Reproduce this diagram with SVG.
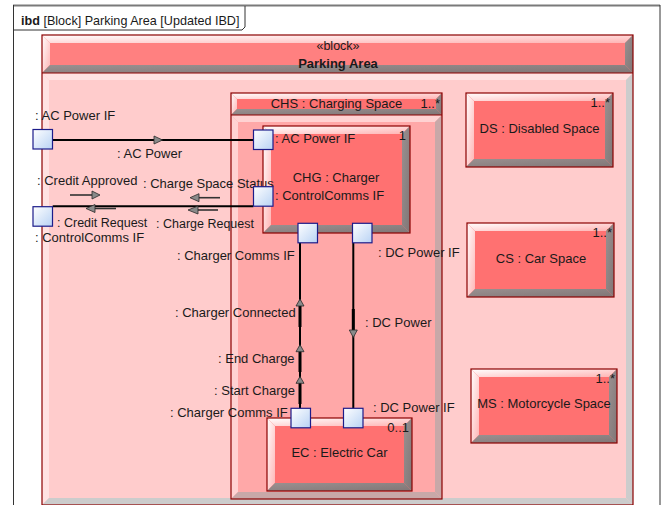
<svg xmlns="http://www.w3.org/2000/svg" width="666" height="505" viewBox="0 0 666 505">
<defs>
<linearGradient id="gLight" x1="0" y1="0" x2="1" y2="1"><stop offset="0" stop-color="#FFFFFF"/><stop offset="1" stop-color="#FFB4B4"/></linearGradient>
<linearGradient id="gDark" x1="0" y1="0" x2="1" y2="1"><stop offset="0" stop-color="#9A9090"/><stop offset="1" stop-color="#807676"/></linearGradient>
<linearGradient id="gPort" x1="0" y1="0" x2="1" y2="1"><stop offset="0" stop-color="#FFFFFF"/><stop offset="1" stop-color="#B8D2F4"/></linearGradient>
<style>
text{font-family:"Liberation Sans",Arial,sans-serif;font-size:13px;fill:#1a1a1a}
.b{font-weight:bold}
.m{text-anchor:middle}
.e{text-anchor:end}
.s{font-size:12.5px}
.part{fill:#FF7171}
.hdr{fill:#FF8080}
.lt{fill:url(#gLight)}
.dk{fill:url(#gDark)}
.ol{fill:none;stroke:#8B0000;stroke-width:1.2}
.port{fill:url(#gPort);stroke:#1C1C8A;stroke-width:1.2}
.con{fill:none;stroke:#000;stroke-width:2}
.fl{fill:none;stroke:#333;stroke-width:1.6}
.tri{fill:#8A8A8A;stroke:#2a2a2a;stroke-width:0.8}
</style>
</defs>
<rect width="666" height="505" fill="#fff"/>
<g id="frame">
<line x1="13" y1="5.5" x2="660" y2="5.5" stroke="#7a7a7a" stroke-width="2"/>
<line x1="13.5" y1="5" x2="13.5" y2="505" stroke="#333" stroke-width="1"/>
<line x1="660" y1="5" x2="660" y2="505" stroke="#333" stroke-width="1"/>
<path d="M13.5,30 H242 L245,27 V6" fill="none" stroke="#333" stroke-width="1"/>
<text x="21" y="25" style="font-size:12.6px"><tspan class="b">ibd</tspan> [Block] Parking Area [Updated IBD]</text>
</g>
<g id="parking-area">
<rect x="42" y="73" width="591" height="432" fill="#FFCCCC"/>
<polygon points="42,73 633,73 626,80 49,80" fill="#FFE2E2"/>
<polygon points="42,73 49,80 49,498 42,505" fill="#FFE2E2"/>
<polygon points="633,73 633,505 626,498 626,80" fill="#CCCCCC"/>
<polygon points="42,505 633,505 626,498 49,498" fill="#CCCCCC"/>
<rect x="42" y="35" width="591" height="38" class="hdr"/>
<polygon points="42,35 633,35 625,43 50,43" class="lt"/>
<polygon points="42,35 50,43 50,65 42,73" class="lt"/>
<polygon points="633,35 633,73 625,65 625,43" class="dk"/>
<polygon points="42,73 633,73 625,65 50,65" class="dk"/>
<rect x="42" y="35" width="591" height="470" class="ol"/>
<line x1="42" y1="73" x2="633" y2="73" stroke="#8B0000" stroke-width="1.2"/>
<text x="338" y="49.5" class="m" style="font-size:12.5px">«block»</text>
<text x="338" y="67.5" class="m b">Parking Area</text>
</g>
<g id="chs">
<rect x="231" y="115" width="211" height="384" fill="#FFA8A8"/>
<polygon points="231,115 442,115 435,122 238,122" fill="#FFD2D2"/>
<polygon points="231,115 238,122 238,492 231,499" fill="#FFD2D2"/>
<polygon points="442,115 442,499 435,492 435,122" fill="#C8A8A8"/>
<polygon points="231,499 442,499 435,492 238,492" fill="#C8A8A8"/>
<rect x="231" y="93" width="211" height="22" class="part"/>
<polygon points="231,93 442,93 436,99 237,99" class="lt"/>
<polygon points="231,93 237,99 237,109 231,115" class="lt"/>
<polygon points="442,93 442,115 436,109 436,99" class="dk"/>
<polygon points="231,115 442,115 436,109 237,109" class="dk"/>
<rect x="231" y="93" width="211" height="406" class="ol"/>
<line x1="231" y1="115" x2="442" y2="115" stroke="#8B0000" stroke-width="1.2"/>
<text x="336.5" y="107.7" class="m">CHS : Charging Space</text>
<text x="440" y="107.7" class="e">1..*</text>
</g>
<g id="chg">
<rect x="263" y="126" width="147" height="107" class="part"/>
<polygon points="263,126 410,126 402,134 271,134" class="lt"/>
<polygon points="263,126 271,134 271,225 263,233" class="lt"/>
<polygon points="410,126 410,233 402,225 402,134" class="dk"/>
<polygon points="263,233 410,233 402,225 271,225" class="dk"/>
<rect x="263" y="126" width="147" height="107" class="ol"/>
<text x="406" y="140" class="e">1</text>
<text x="275" y="143.3">: AC Power IF</text>
<text x="336" y="182" class="m">CHG : Charger</text>
<text x="275" y="200">: ControlComms IF</text>
</g>
<g id="ds">
<rect x="466" y="93" width="147" height="74" class="part"/>
<polygon points="466,93 613,93 605,101 474,101" class="lt"/>
<polygon points="466,93 474,101 474,159 466,167" class="lt"/>
<polygon points="613,93 613,167 605,159 605,101" class="dk"/>
<polygon points="466,167 613,167 605,159 474,159" class="dk"/>
<rect x="466" y="93" width="147" height="74" class="ol"/>
<text x="610" y="107" class="e">1..*</text>
<text x="539.5" y="133.3" class="m">DS : Disabled Space</text>
</g>
<g id="cs">
<rect x="467" y="223" width="147" height="74" class="part"/>
<polygon points="467,223 614,223 606,231 475,231" class="lt"/>
<polygon points="467,223 475,231 475,289 467,297" class="lt"/>
<polygon points="614,223 614,297 606,289 606,231" class="dk"/>
<polygon points="467,297 614,297 606,289 475,289" class="dk"/>
<rect x="467" y="223" width="147" height="74" class="ol"/>
<text x="612" y="237" class="e">1..*</text>
<text x="541" y="262.7" class="m">CS : Car Space</text>
</g>
<g id="ms">
<rect x="471" y="369" width="146" height="74" class="part"/>
<polygon points="471,369 617,369 609,377 479,377" class="lt"/>
<polygon points="471,369 479,377 479,435 471,443" class="lt"/>
<polygon points="617,369 617,443 609,435 609,377" class="dk"/>
<polygon points="471,443 617,443 609,435 479,435" class="dk"/>
<rect x="471" y="369" width="146" height="74" class="ol"/>
<text x="615" y="383" class="e">1..*</text>
<text x="544" y="408.3" class="m">MS : Motorcycle Space</text>
</g>
<g id="ec">
<rect x="267" y="418" width="145" height="73" class="part"/>
<polygon points="267,418 412,418 404,426 275,426" class="lt"/>
<polygon points="267,418 275,426 275,483 267,491" class="lt"/>
<polygon points="412,418 412,491 404,483 404,426" class="dk"/>
<polygon points="267,491 412,491 404,483 275,483" class="dk"/>
<rect x="267" y="418" width="145" height="73" class="ol"/>
<text x="409" y="431.7" class="e">0..1</text>
<text x="339.5" y="456.7" class="m">EC : Electric Car</text>
</g>
<g id="connectors">
<line x1="52.7" y1="140" x2="253.3" y2="140" class="con"/>
<line x1="52.7" y1="206.3" x2="253.3" y2="206.3" class="con"/>
<line x1="300" y1="242.7" x2="300" y2="408.3" class="con"/>
<line x1="353.3" y1="242.7" x2="353.3" y2="408.3" class="con"/>
<polygon points="154,136 162.5,140 154,144" class="tri"/>
<line x1="70" y1="195" x2="92" y2="195" class="fl"/>
<polygon points="92,191 100,195 92,199" class="tri"/>
<line x1="199" y1="197.7" x2="220" y2="197.7" class="fl"/>
<polygon points="199,193.7 190,197.7 199,201.7" class="tri"/>
<line x1="198" y1="210" x2="218" y2="210" class="fl"/>
<polygon points="198,206 188,210 198,214" class="tri"/>
<line x1="95" y1="208.5" x2="116" y2="208.5" class="fl"/>
<polygon points="95,204.5 86,208.5 95,212.5" class="tri"/>
<line x1="300" y1="306" x2="300" y2="327" stroke="#000" stroke-width="3"/>
<polygon points="296,306 300,299 304,306" class="tri"/>
<line x1="300" y1="351.7" x2="300" y2="372" stroke="#000" stroke-width="3"/>
<polygon points="296,351.7 300,344.7 304,351.7" class="tri"/>
<line x1="300" y1="383.3" x2="300" y2="404" stroke="#000" stroke-width="3"/>
<polygon points="296,383.3 300,376.5 304,383.3" class="tri"/>
<line x1="353.3" y1="309" x2="353.3" y2="330" stroke="#000" stroke-width="3"/>
<polygon points="349.3,330 353.3,337.5 357.3,330" class="tri"/>
<text x="117" y="158">: AC Power</text>
<text x="37" y="185">: Credit Approved</text>
<text x="143" y="187.5">: Charge Space Status</text>
<text x="57" y="227" class="s">: Credit Request</text>
<text x="156" y="227.5" class="s">: Charge Request</text>
<text x="175" y="317.3">: Charger Connected</text>
<text x="365" y="327.3">: DC Power</text>
<text x="218" y="362.7">: End Charge</text>
<text x="214" y="395">: Start Charge</text>
</g>
<g id="ports">
<rect x="33" y="129.5" width="19.5" height="19.5" class="port"/>
<text x="35" y="120">: AC Power IF</text>
<rect x="33" y="206.7" width="19.5" height="19.5" class="port"/>
<text x="35" y="242">: ControlComms IF</text>
<rect x="253.5" y="130" width="19.5" height="19.5" class="port"/>
<rect x="253.5" y="186.7" width="19.5" height="19.5" class="port"/>
<rect x="298" y="223.3" width="19.5" height="19.5" class="port"/>
<text x="177" y="259.5">: Charger Comms IF</text>
<rect x="352.5" y="223.3" width="19.5" height="19.5" class="port"/>
<text x="378" y="256.7">: DC Power IF</text>
<rect x="291" y="408.3" width="19.5" height="19.5" class="port"/>
<text x="170" y="416.7">: Charger Comms IF</text>
<rect x="343.5" y="408.3" width="19.5" height="19.5" class="port"/>
<text x="373" y="411.7">: DC Power IF</text>
</g>
</svg>
